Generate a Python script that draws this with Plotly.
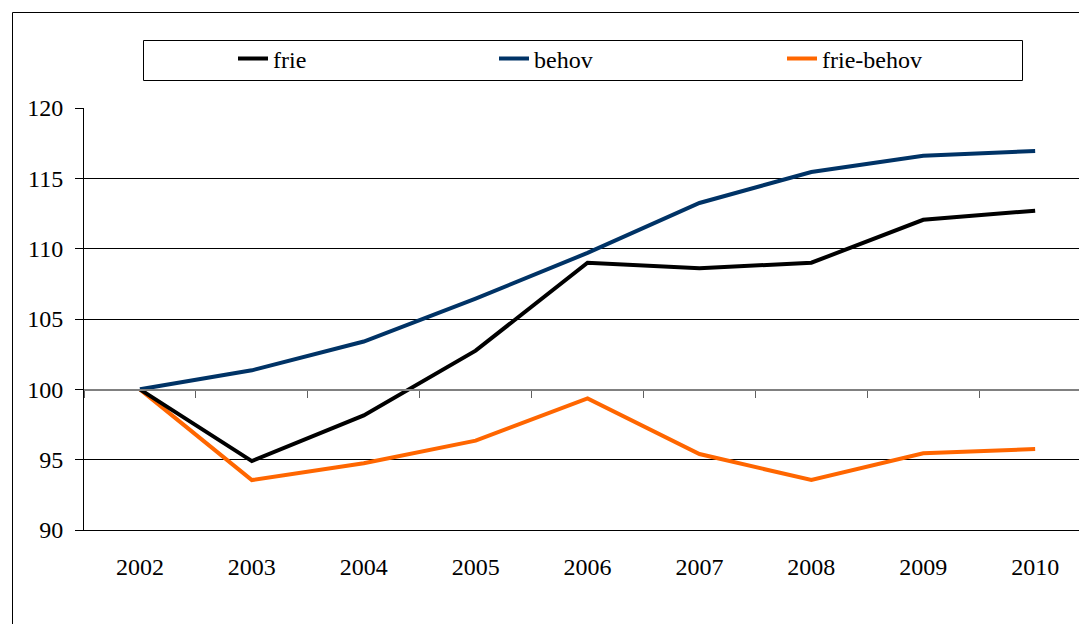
import plotly.graph_objects as go

years = ["2002", "2003", "2004", "2005", "2006", "2007", "2008", "2009", "2010"]
frie = [100, 94.9, 98.15, 102.75, 109.0, 108.6, 109.0, 112.05, 112.7]
behov = [100, 101.35, 103.4, 106.45, 109.7, 113.25, 115.45, 116.6, 116.95]
frie_behov = [100, 93.55, 94.75, 96.35, 99.35, 95.4, 93.55, 95.45, 95.75]
y_ticks = [90, 95, 100, 105, 110, 115, 120]

OFF = 8  # page body margin
W, H = 1087 - OFF, 624 - OFF
L, R, T, B = 84 - OFF, 0, 108 - OFF, 94
pw, ph = W - L - R, H - T - B

def px_x(p):
    # p in page pixels
    return (p - OFF - L) / pw

def px_y(p):
    return (H - B - (p - OFF)) / ph

FONT = "Liberation Serif, Times New Roman, Times, serif"
xrange_ = [-0.5, -0.5 + pw / 111.9]

fig = go.Figure()
fig.add_trace(go.Scatter(x=years, y=[None] * len(years), xaxis="x2", yaxis="y",
                         showlegend=False, hoverinfo="skip", mode="lines"))
fig.add_trace(go.Scatter(x=years, y=frie_behov, name="frie-behov", mode="lines",
                         line=dict(color="#FF6600", width=4), legend="legend3"))
fig.add_trace(go.Scatter(x=years, y=frie, name="frie", mode="lines",
                         line=dict(color="#000000", width=4), legend="legend"))
fig.add_trace(go.Scatter(x=years, y=behov, name="behov", mode="lines",
                         line=dict(color="#003366", width=4), legend="legend2"))

leg_common = dict(orientation="h", xanchor="left", yanchor="middle",
                  bgcolor="rgba(0,0,0,0)", borderwidth=0,
                  font=dict(family=FONT, size=24, color="black"))

fig.update_layout(
    width=W, height=H,
    margin=dict(l=L, r=R, t=T, b=B, pad=0),
    paper_bgcolor="white", plot_bgcolor="white",
    font=dict(family=FONT, size=24, color="black"),
    xaxis=dict(type="category", categoryarray=years, range=xrange_,
               showgrid=False, showline=True, linecolor="black", linewidth=1,
               ticks="", ticklabelstandoff=15, tickfont=dict(family=FONT, size=24),
               zeroline=False),
    xaxis2=dict(type="category", categoryarray=years, range=xrange_,
                overlaying="x", anchor="free", position=px_y(390),
                showgrid=False, showline=True, linecolor="#808080", linewidth=2,
                ticks="outside", tickson="boundaries", ticklen=7, tickcolor="#606060",
                tickwidth=1, showticklabels=False, zeroline=False),
    yaxis=dict(range=[90, 120], tickvals=y_ticks, showgrid=True, gridcolor="black",
               gridwidth=1, showline=True, linecolor="black", linewidth=1,
               ticks="outside", ticklen=8, tickcolor="black", ticklabelstandoff=7,
               tickfont=dict(family=FONT, size=24), zeroline=False),
    legend=dict(x=px_x(239 - 6), y=px_y(59), **leg_common),
    legend2=dict(x=px_x(500 - 6), y=px_y(59), **leg_common),
    legend3=dict(x=px_x(788 - 6), y=px_y(59), **leg_common),
    shapes=[
        dict(type="rect", xref="paper", yref="paper",
             x0=px_x(12.5), x1=px_x(1087 + 20), y0=px_y(624 + 20), y1=px_y(12.5),
             line=dict(color="black", width=1), fillcolor="rgba(0,0,0,0)", layer="below"),
        dict(type="rect", xref="paper", yref="paper",
             x0=px_x(143.5), x1=px_x(1022.5), y0=px_y(80.5), y1=px_y(40.5),
             line=dict(color="black", width=1), fillcolor="rgba(0,0,0,0)", layer="below"),
    ],
    showlegend=True,
)

fig.write_html("out.html")
